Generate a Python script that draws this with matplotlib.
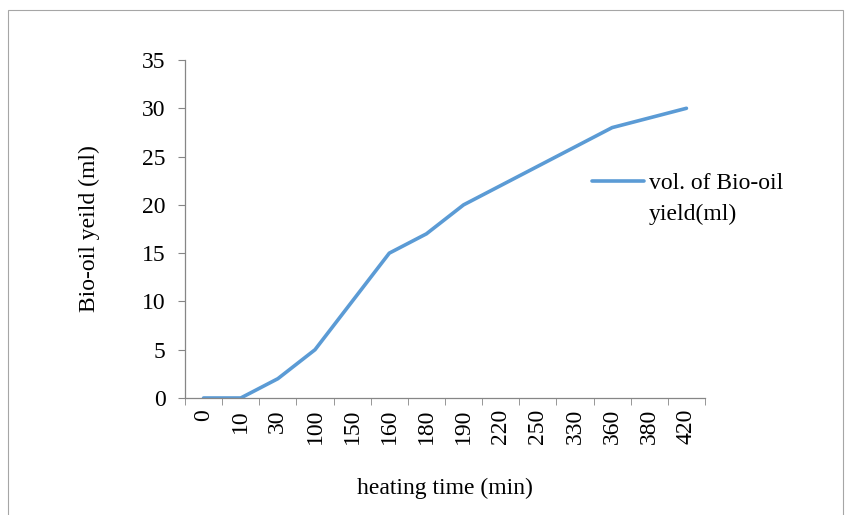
import numpy as np
import matplotlib.pyplot as plt
from matplotlib.patches import Rectangle

# heating time categories (min) and bio-oil yield (ml)
times = ['0', '10', '30', '100', '150', '160', '180', '190', '220', '250', '330', '360', '380', '420']
yield_ml = [0, 0, 2, 5, 10, 15, 17, 20, 22, 24, 26, 28, 29, 30]

plt.rcParams['font.family'] = ['Liberation Serif', 'DejaVu Serif']
GRAY = '#868686'
FS = 17

fig = plt.figure(figsize=(8.46, 5.15), dpi=100)
# outer chart frame
fig.patches.append(Rectangle((8 / 846, -0.1), 835 / 846, 1.1 - 10 / 515,
                             transform=fig.transFigure, fill=False,
                             edgecolor='#a6a6a6', lw=0.8))

ax = fig.add_axes([185 / 846, 1 - 398 / 515, 520 / 846, 338 / 515])
x = np.arange(len(times))
ax.plot(x, yield_ml, color='#5B9BD5', lw=2.6, solid_capstyle='round',
        label='vol. of Bio-oil\nyield(ml)')

ax.set_xlim(-0.5, len(times) - 0.5)
ax.set_ylim(0, 35)
ax.set_yticks(np.arange(0, 36, 5))
ax.set_xticks(x)
ax.set_xticklabels(times, rotation=90)
ax.set_xticks(np.arange(-0.5, len(times)), minor=True)

for s in ['top', 'right']:
    ax.spines[s].set_visible(False)
for s in ['left', 'bottom']:
    ax.spines[s].set_color(GRAY)
    ax.spines[s].set_linewidth(0.9)

ax.tick_params(axis='y', direction='out', length=5, color=GRAY, labelsize=FS, pad=9)
ax.tick_params(axis='x', which='major', length=0, labelsize=FS, pad=8)
ax.tick_params(axis='x', which='minor', direction='out', length=5, color=GRAY)

ax.set_xlabel('heating time (min)', fontsize=FS, labelpad=24)
ax.set_ylabel('Bio-oil yeild (ml)', fontsize=FS, labelpad=30)

leg = ax.legend(loc='center left', bbox_to_anchor=(0.783, 0.589), frameon=False,
                fontsize=FS, handlelength=2.2, handletextpad=0.2, borderaxespad=0,
                borderpad=0)
for t in leg.get_texts():
    t.set_linespacing(1.6)
# put the legend line next to the first text line, as in the original
for row in leg._legend_handle_box.get_children():
    for entry in row.get_children():
        entry.align = 'top'

fig.savefig('out.png', dpi=100)
